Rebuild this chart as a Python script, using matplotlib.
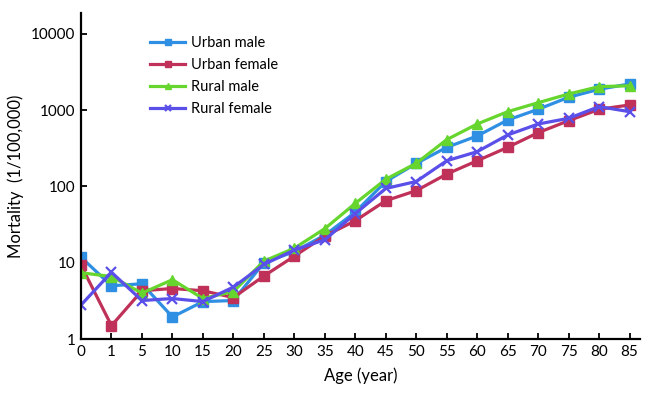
import matplotlib
matplotlib.use("Agg")
import matplotlib.pyplot as plt
from matplotlib.ticker import FixedLocator, FixedFormatter, NullLocator

plt.rcParams['font.family'] = ['Lato', 'DejaVu Sans']

ages = ["0", "1", "5", "10", "15", "20", "25", "30", "35", "40", "45", "50",
        "55", "60", "65", "70", "75", "80", "85"]

urban_male = [11.8, 5.0, 5.3, 1.95, 3.1, 3.2, 10.0, 14.0, 23, 46, 116, 200,
              325, 458, 741, 1024, 1472, 1874, 2200]
urban_female = [9.3, 1.5, 4.3, 4.6, 4.3, 3.5, 6.7, 12.2, 22.4, 35.5, 65, 88,
                145, 217, 325, 506, 726, 1024, 1167]
rural_male = [7.4, 6.6, 4.0, 6.0, 3.4, 4.2, 10.5, 15.5, 28, 60, 124, 201,
              410, 657, 953, 1250, 1625, 2030, 2080]
rural_female = [2.8, 7.5, 3.2, 3.4, 3.1, 4.8, 9.5, 14.7, 20, 44, 94, 116,
                217, 285, 472, 657, 780, 1110, 953]

series = [
    ("Urban male", urban_male, "#2f8fe3", "s"),
    ("Urban female", urban_female, "#bf3158", "s"),
    ("Rural male", rural_male, "#66d62e", "^"),
    ("Rural female", rural_female, "#5a4fe8", "x"),
]

yticks = [1, 10, 100, 1000, 10000]
ytick_labels = ["1", "10", "100", "1000", "10000"]

fig = plt.figure(figsize=(6.48, 3.98), dpi=100)
ax = fig.add_axes([0.125, 0.148, 0.863, 0.819])

x = list(range(len(ages)))
for name, vals, color, marker in series:
    if marker == "x":
        ax.plot(x, vals, color=color, lw=2.3, marker=marker, ms=6.5, mew=1.6, label=name)
    else:
        ax.plot(x, vals, color=color, lw=2.3, marker=marker, ms=6.5, mec=color, label=name)

ax.set_yscale("log")
ax.set_ylim(1, 10 ** 4.27)
ax.set_xlim(0, 18.35)
ax.yaxis.set_major_locator(FixedLocator(yticks))
ax.yaxis.set_major_formatter(FixedFormatter(ytick_labels))
ax.yaxis.set_minor_locator(NullLocator())
ax.set_xticks(x)
ax.set_xticklabels(ages)

for s in ["top", "right"]:
    ax.spines[s].set_visible(False)
for s in ["left", "bottom"]:
    ax.spines[s].set_linewidth(1.6)
    ax.spines[s].set_color("black")

ax.tick_params(axis="both", direction="in", length=4, width=1.3, labelsize=11,
               colors="black", pad=4)
ax.set_xlabel("Age (year)", fontsize=12, labelpad=6)
ax.set_ylabel("Mortality  (1/100,000)", fontsize=12, labelpad=5)

ax.legend(loc="upper left", bbox_to_anchor=(0.1, 0.97), frameon=False,
          fontsize=10.5, handlelength=2.4, labelspacing=0.55, handletextpad=0.4,
          markerscale=0.75)

fig.savefig("out.png", dpi=100)
